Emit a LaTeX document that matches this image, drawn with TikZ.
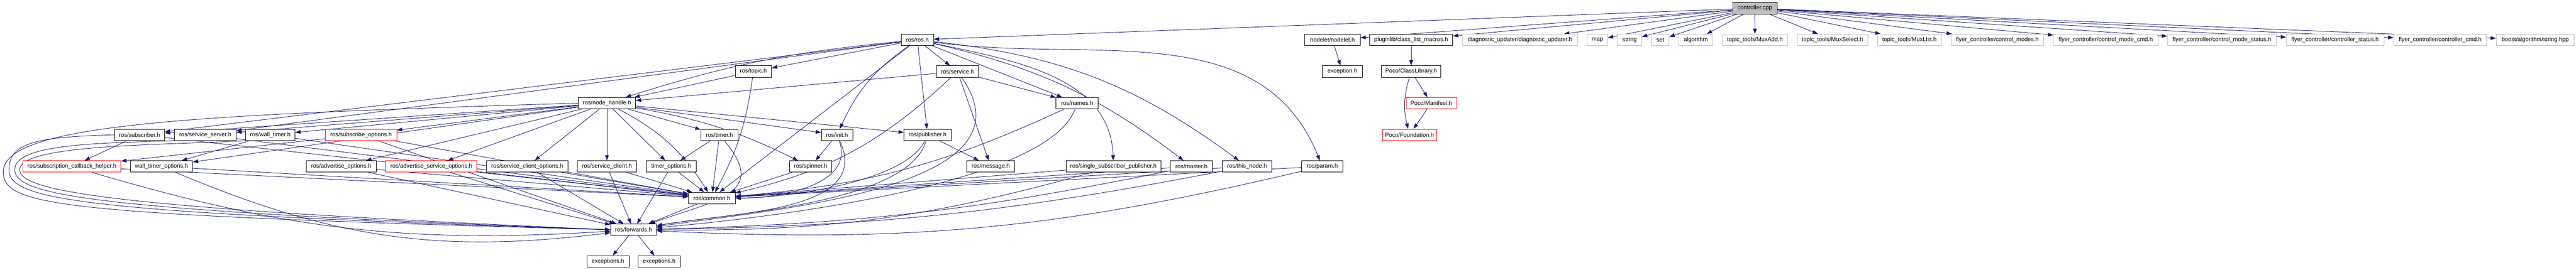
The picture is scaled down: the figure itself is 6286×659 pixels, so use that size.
\documentclass[tikz,border=0pt]{standalone}
\usepackage{fontspec}
\newfontfamily\dotfont{Liberation Sans}
\usetikzlibrary{arrows.meta}
\definecolor{EdgeClr}{rgb}{0.098,0.098,0.439}
\definecolor{ExtClr}{rgb}{0.75,0.75,0.75}
\pgfdeclarelayer{edges}
\pgfsetlayers{edges,main}

\begin{document}
\begin{tikzpicture}[x=0.5pt,y=-0.5pt,
  hdr/.style={draw=black,fill=white,line width=0.5pt,inner sep=0pt,minimum height=14pt,font=\dotfont\fontsize{7.1}{8}\selectfont},
  ext/.style={hdr,draw=ExtClr},
  trunc/.style={hdr,draw=red},
  top/.style={hdr,fill=ExtClr},
  dep/.style={draw=EdgeClr,line width=0.55pt,-{Triangle[length=6.5pt,width=4.6pt]}}]
\useasboundingbox (0,0) rectangle (6286,659);

\node[top,minimum width=54pt] (ctrl) at (4282,20) {controller.cpp};

\foreach \nm/\xl/\xr/\rk/\txt in {rosh/2199/2278/1/{ros/ros.h},nodelet/3184/3319/1/{nodelet/nodelet.h},
  plugin/3342/3545/1/{pluginlib/class\_list\_macros.h},topic/1794/1883/2/{ros/topic.h},
  service/2285/2388/2/{ros/service.h},exception/3227/3324/2/{exception.h},classlib/3371/3516/2/{Poco/ClassLibrary.h},
  nh/1411/1551/3/{ros/node\_handle.h},names/2577/2680/3/{ros/names.h},
  subscriber/279/402/4/{ros/subscriber.h},srvserver/426/576/4/{ros/service\_server.h},
  walltimer/599/720/4/{ros/wall\_timer.h},timer/1710/1801/4/{ros/timer.h},init/2004/2081/4/{ros/init.h},
  publisher/2206/2321/4/{ros/publisher.h},wtopts/318/470/5/{wall\_timer\_options.h},
  advopts/747/918/5/{ros/advertise\_options.h},scopts/1187/1386/5/{ros/service\_client\_options.h},
  sclient/1409/1553/5/{ros/service\_client.h},timeropts/1577/1699/5/{timer\_options.h},
  spinner/1926/2030/5/{ros/spinner.h},message/2359/2476/5/{ros/message.h},
  ssp/2601/2833/5/{ros/single\_subscriber\_publisher.h},master/2856/2959/5/{ros/master.h},
  thisnode/2983/3103/5/{ros/this\_node.h},param/3176/3277/5/{ros/param.h},
  common/1680/1794/6/{ros/common.h},forwards/1490/1602/7/{ros/forwards.h},
  excl/1432/1535/8/{exceptions.h},excr/1557/1660/8/{exceptions.h}}
  \node[hdr,minimum width={(\xr-\xl)*0.5pt}] (\nm) at ({(\xl+\xr)/2},{20+77.375*\rk}) {\txt};

\foreach \nm/\xl/\xr/\rk/\txt in {manifest/3431/3554/3/{Poco/Manifest.h},subopts/794/968/4/{ros/subscribe\_options.h},
  foundation/3373/3506/4/{Poco/Foundation.h},cbhelper/56/295/5/{ros/subscription\_callback\_helper.h},
  advsrvopts/941/1164/5/{ros/advertise\_service\_options.h}}
  \node[trunc,minimum width={(\xr-\xl)*0.5pt}] (\nm) at ({(\xl+\xr)/2},{20+77.375*\rk}) {\txt};

\foreach \nm/\xl/\xr/\txt in {diag/3568/3850/{diagnostic\_updater/diagnostic\_updater.h},map/3873/3923/map,
  string/3947/4006/string,set/4030/4073/set,algorithm/4097/4179/algorithm,
  muxadd/4203/4362/{topic\_tools/MuxAdd.h},muxsel/4385/4558/{topic\_tools/MuxSelect.h},
  muxlist/4582/4737/{topic\_tools/MuxList.h},cmodes/4761/4987/{flyer\_controller/control\_modes.h},
  cmcmd/5011/5266/{flyer\_controller/control\_mode\_cmd.h},cmstat/5289/5555/{flyer\_controller/control\_mode\_status.h},
  cstat/5579/5817/{flyer\_controller/controller\_status.h},ccmd/5841/6068/{flyer\_controller/controller\_cmd.h},
  boost/6091/6282/{boost/algorithm/string.hpp}}
  \node[ext,minimum width={(\xr-\xl)*0.5pt}] (\nm) at ({(\xl+\xr)/2},97.4) {\txt};

\begin{pgfonlayer}{edges}
\foreach \s/\d/\b in {ctrl/rosh/0,ctrl/nodelet/0,ctrl/plugin/0,ctrl/diag/0,ctrl/map/0,ctrl/string/0,ctrl/set/0,
  ctrl/algorithm/0,ctrl/muxadd/0,ctrl/muxsel/0,ctrl/muxlist/0,ctrl/cmodes/0,ctrl/cmcmd/0,ctrl/cmstat/0,
  ctrl/cstat/0,ctrl/ccmd/0,ctrl/boost/0,
  rosh/topic/0,rosh/service/0,rosh/nh/-6,rosh/subscriber/0,rosh/srvserver/0,rosh/init/-15,rosh/publisher/0,
  rosh/names/0,rosh/master/12,rosh/thisnode/15,rosh/common/0,
  topic/nh/0,topic/common/10,service/nh/0,service/names/0,service/message/0,service/common/15,
  nh/subscriber/0,nh/srvserver/0,nh/walltimer/0,nh/subopts/0,nh/wtopts/0,nh/advopts/0,nh/advsrvopts/0,
  nh/scopts/0,nh/sclient/0,nh/timeropts/0,nh/timer/0,nh/spinner/8,nh/init/0,nh/publisher/0,nh/common/15,
  subscriber/cbhelper/0,subscriber/common/0,srvserver/common/0,walltimer/wtopts/0,walltimer/common/0,
  subopts/cbhelper/0,subopts/common/0,subopts/forwards/0,timer/timeropts/0,timer/common/0,
  init/spinner/0,publisher/message/0,names/common/10,ssp/common/0,ssp/forwards/8,
  master/common/0,master/forwards/5,thisnode/common/0,thisnode/forwards/5,param/common/0,param/forwards/8,
  cbhelper/common/0,cbhelper/forwards/-10,wtopts/common/0,wtopts/forwards/-15,advopts/common/0,
  advopts/forwards/0,advsrvopts/common/0,advsrvopts/forwards/0,scopts/common/0,scopts/forwards/0,
  sclient/common/0,sclient/forwards/0,timeropts/common/0,timeropts/forwards/0,spinner/common/0,
  common/forwards/0,forwards/excl/0,forwards/excr/0,nodelet/exception/0,plugin/classlib/0,
  classlib/manifest/0,classlib/foundation/-15,manifest/foundation/0}
  \draw[dep] (\s) to[bend left=\b] (\d);

\draw[dep] (rosh) to[out=-12,in=92] (ssp);
\draw[dep] (rosh) to[out=-8,in=112] (param);
\draw[dep] (service) to[out=-55,in=8] (forwards);
\draw[dep] (names) to[out=-110,in=5,looseness=.5] (forwards);
\draw[dep] (init) to[out=-70,in=0] (common);
\draw[dep] (init) to[out=-65,in=10] (forwards);
\draw[dep] (timer) to[out=-50,in=20,looseness=1.6] (forwards);
\draw[dep] (publisher) to[out=-115,in=0,looseness=.6] (common);
\draw[dep] (publisher) to[out=-105,in=10,looseness=.6] (forwards);

\draw[dep] (nh.west) .. controls (500,280) and (8,300) .. (8,420) .. controls (8,505) and (150,525) .. (forwards.west);
\draw[dep] (subscriber.west) .. controls (100,335) and (22,345) .. (22,415) .. controls (22,490) and (200,520) .. (forwards.west);
\draw[dep] (srvserver.south west) .. controls (250,350) and (36,350) .. (36,415) .. controls (36,480) and (250,515) .. (forwards.west);
\draw[dep] (walltimer.south west) .. controls (400,355) and (48,352) .. (48,415) .. controls (48,470) and (300,510) .. (forwards.west);
\end{pgfonlayer}
\end{tikzpicture}
\end{document}
